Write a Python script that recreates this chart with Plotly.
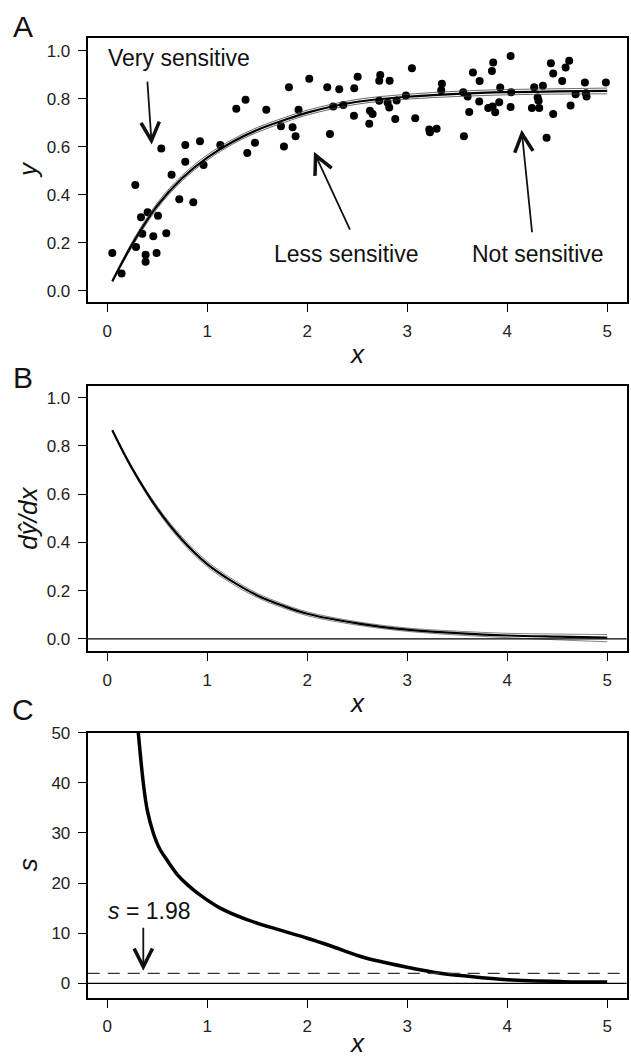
import plotly.graph_objects as go

obs_x = [0.05, 0.143, 0.28, 0.287, 0.337, 0.403, 0.35, 0.383, 0.383, 0.46, 0.493, 0.507,
         0.59, 0.54, 0.643, 0.72, 0.78, 0.78, 0.86, 0.927, 0.963, 1.13, 1.29, 1.383,
         1.40, 1.477, 1.59, 1.737, 1.767, 1.817, 1.853, 1.883, 1.913, 2.02, 2.20, 2.32,
         2.227, 2.26, 2.36, 2.47, 2.504, 2.467, 2.627, 2.654, 2.62, 2.72, 2.73, 2.824,
         2.72, 2.804, 2.82, 2.894, 2.88, 2.987, 3.047, 3.08, 3.227, 3.294, 3.22, 3.347,
         3.34, 3.56, 3.604, 3.567, 3.62, 3.657, 3.724, 3.72, 3.847, 3.86, 3.81, 3.854,
         3.88, 3.92, 3.93, 4.034, 4.04, 4.034, 4.247, 4.32, 4.27, 4.357, 4.304, 4.314,
         4.394, 4.437, 4.46, 4.46, 4.55, 4.584, 4.62, 4.634, 4.684, 4.777, 4.787, 4.794,
         4.987]
obs_y = [0.158, 0.073, 0.441, 0.183, 0.307, 0.327, 0.238, 0.151, 0.121, 0.228, 0.158, 0.313,
         0.24, 0.593, 0.483, 0.382, 0.607, 0.538, 0.369, 0.623, 0.524, 0.607, 0.758, 0.795,
         0.574, 0.617, 0.754, 0.685, 0.601, 0.847, 0.681, 0.644, 0.754, 0.883, 0.847, 0.839,
         0.653, 0.767, 0.774, 0.843, 0.891, 0.729, 0.75, 0.736, 0.696, 0.875, 0.898, 0.875,
         0.791, 0.783, 0.763, 0.792, 0.715, 0.813, 0.926, 0.719, 0.66, 0.675, 0.672, 0.862,
         0.835, 0.827, 0.809, 0.644, 0.744, 0.909, 0.873, 0.788, 0.915, 0.95, 0.761, 0.767,
         0.743, 0.785, 0.846, 0.977, 0.827, 0.765, 0.761, 0.761, 0.847, 0.854, 0.805, 0.791,
         0.637, 0.947, 0.905, 0.736, 0.873, 0.93, 0.958, 0.772, 0.818, 0.867, 0.823, 0.809,
         0.867]

# fitted curve with its band
curve_x = [0.05, 0.25, 0.5, 0.75, 1.0, 1.25, 1.5, 1.75, 2.0, 2.5, 3.0, 3.5, 4.0, 4.5, 5.0]
fit_y = [0.040, 0.195, 0.355, 0.470, 0.555, 0.620, 0.670, 0.708, 0.742, 0.787, 0.808, 0.820, 0.827, 0.830, 0.832]
fit_hi = [0.042, 0.205, 0.366, 0.481, 0.566, 0.630, 0.680, 0.718, 0.752, 0.797, 0.818, 0.831, 0.838, 0.841, 0.844]
fit_lo = [0.038, 0.185, 0.344, 0.459, 0.544, 0.610, 0.660, 0.698, 0.732, 0.777, 0.798, 0.809, 0.816, 0.819, 0.820]

# ---- panel B: slope of the fitted curve ----
slope = [0.865, 0.705, 0.540, 0.410, 0.310, 0.238, 0.180, 0.138, 0.104, 0.064, 0.038, 0.024, 0.014, 0.009, 0.005]
slope_hi = [0.867, 0.711, 0.549, 0.421, 0.321, 0.248, 0.189, 0.146, 0.112, 0.071, 0.045, 0.032, 0.023, 0.020, 0.018]
slope_lo = [0.863, 0.699, 0.531, 0.399, 0.299, 0.228, 0.171, 0.130, 0.096, 0.057, 0.031, 0.016, 0.005, -0.004, -0.012]

# ---- panel C: sensitivity ----
sens_x = [0.31, 0.36, 0.40, 0.46, 0.52, 0.60, 0.70, 0.80, 0.93, 1.13, 1.39, 1.73, 2.0, 2.23,
          2.56, 3.0, 3.33, 3.56, 4.0, 4.56, 5.0]
sens = [50, 40, 34.5, 30, 27, 24.5, 21.7, 19.7, 17.6, 15, 12.75, 10.6, 9.0, 7.5,
        5.2, 3.2, 2.0, 1.5, 0.7, 0.33, 0.25]
s_crit = 1.98

FONT = "Liberation Sans"
x_range = [-0.196, 5.194]
x_dom = [0.139, 0.993]
doms = {"A": [0.7205, 0.9723], "B": [0.3884, 0.6412], "C": [0.0583, 0.3107]}

fig = go.Figure()

# A
fig.add_trace(go.Scatter(x=obs_x, y=obs_y, mode="markers",
                         marker=dict(size=8, color="black"), xaxis="x", yaxis="y"))
for ys, w, c in [(fit_hi, 0.8, "#444"), (fit_lo, 0.8, "#444"), (fit_y, 2.2, "black")]:
    fig.add_trace(go.Scatter(x=curve_x, y=ys, mode="lines", line=dict(color=c, width=w, shape="spline"),
                             xaxis="x", yaxis="y"))

# B
for ys, w, c in [(slope_hi, 0.8, "#666"), (slope_lo, 0.8, "#666"), (slope, 2.2, "black")]:
    fig.add_trace(go.Scatter(x=curve_x, y=ys, mode="lines", line=dict(color=c, width=w, shape="spline"),
                             xaxis="x2", yaxis="y2"))

# C
fig.add_trace(go.Scatter(x=sens_x, y=sens, mode="lines", line=dict(color="black", width=3.5, shape="spline"),
                         xaxis="x3", yaxis="y3"))

axis_common = dict(showline=True, linecolor="black", linewidth=2, mirror=True,
                   ticks="outside", ticklen=8, tickwidth=1.2, tickcolor="black",
                   showgrid=False, zeroline=False,
                   tickfont=dict(family=FONT, size=17, color="#222"))

layout = dict(width=631, height=1059, margin=dict(l=0, r=0, t=0, b=0),
              plot_bgcolor="white", paper_bgcolor="white", showlegend=False)
for i, key in enumerate(["A", "B", "C"], start=1):
    sfx = "" if i == 1 else str(i)
    layout["xaxis" + sfx] = dict(axis_common, domain=x_dom, range=x_range, anchor="y" + sfx,
                                 tickvals=[0, 1, 2, 3, 4, 5], ticklabelstandoff=4)
    layout["yaxis" + sfx] = dict(axis_common, domain=doms[key], anchor="x" + sfx,
                                 ticklabelstandoff=4)
layout["yaxis"].update(range=[-0.048, 1.052], tickvals=[0, 0.2, 0.4, 0.6, 0.8, 1.0], tickformat=".1f")
layout["yaxis2"].update(range=[-0.051, 1.049], tickvals=[0, 0.2, 0.4, 0.6, 0.8, 1.0], tickformat=".1f")
layout["yaxis3"].update(range=[-2.89, 50], tickvals=[0, 10, 20, 30, 40, 50])
fig.update_layout(**layout)

# reference lines
fig.add_shape(type="line", xref="x2 domain", yref="y2", x0=0, x1=1, y0=0, y1=0,
              line=dict(color="black", width=1.2))
fig.add_shape(type="line", xref="x3 domain", yref="y3", x0=0, x1=1, y0=0, y1=0,
              line=dict(color="black", width=1.2))
fig.add_shape(type="line", xref="x3 domain", yref="y3", x0=0, x1=1, y0=s_crit, y1=s_crit,
              line=dict(color="#333", width=1.2, dash="12px,8px"))

# text + arrows
txt = dict(family=FONT, size=23, color="#111")
mid = dict(showarrow=False, xanchor="center", yanchor="middle")
fig.add_annotation(x=0.717, y=0.971, xref="x", yref="y", text="Very sensitive", font=txt, **mid)
fig.add_annotation(x=2.387, y=0.154, xref="x", yref="y", text="Less sensitive", font=txt, **mid)
fig.add_annotation(x=4.307, y=0.154, xref="x", yref="y", text="Not sensitive", font=txt, **mid)
arrows = [("x", "y", 0.444, 0.609, 0.40, 0.877),
          ("x", "y", 2.067, 0.579, 2.434, 0.249),
          ("x", "y", 4.144, 0.671, 4.25, 0.238),
          ("x3", "y3", 0.36, 2.5, 0.36, 11.4)]
for xr, yr, hx, hy, tx, ty in arrows:
    fig.add_annotation(x=hx, y=hy, ax=tx, ay=ty, xref=xr, yref=yr, axref=xr, ayref=yr,
                       text="", showarrow=True, arrowhead=5, arrowsize=2.0, arrowwidth=1.8,
                       arrowcolor="#111")
fig.add_annotation(x=0.42, y=14.4, xref="x3", yref="y3", text="<i>s</i> = 1.98",
                   font=dict(family=FONT, size=23, color="#111"), **mid)

# axis titles and panel letters
title_font = dict(family=FONT, size=26, color="#111")
for ypix, t in [(348, "<i>x</i>"), (700, "<i>x</i>"), (1043, "<i>x</i>")]:
    fig.add_annotation(x=357 / 631, y=1 - ypix / 1059, xref="paper", yref="paper", text=t,
                       font=title_font, **mid)
for ypix, t in [(162.5, "<i>y</i>"), (514, "<i>dŷ/dx</i>"), (863.5, "<i>s</i>")]:
    fig.add_annotation(x=28 / 631, y=1 - ypix / 1059, xref="paper", yref="paper", text=t,
                       textangle=-90, font=title_font, **mid)
for ypix, t in [(18, "A"), (372, "B"), (707, "C")]:
    fig.add_annotation(x=23 / 631, y=1 - ypix / 1059, xref="paper", yref="paper", text=t,
                       font=dict(family=FONT, size=30, color="#111"), **mid)

fig.write_html("out.html", config={"displayModeBar": False},
               post_script="document.body.style.margin='0';")
